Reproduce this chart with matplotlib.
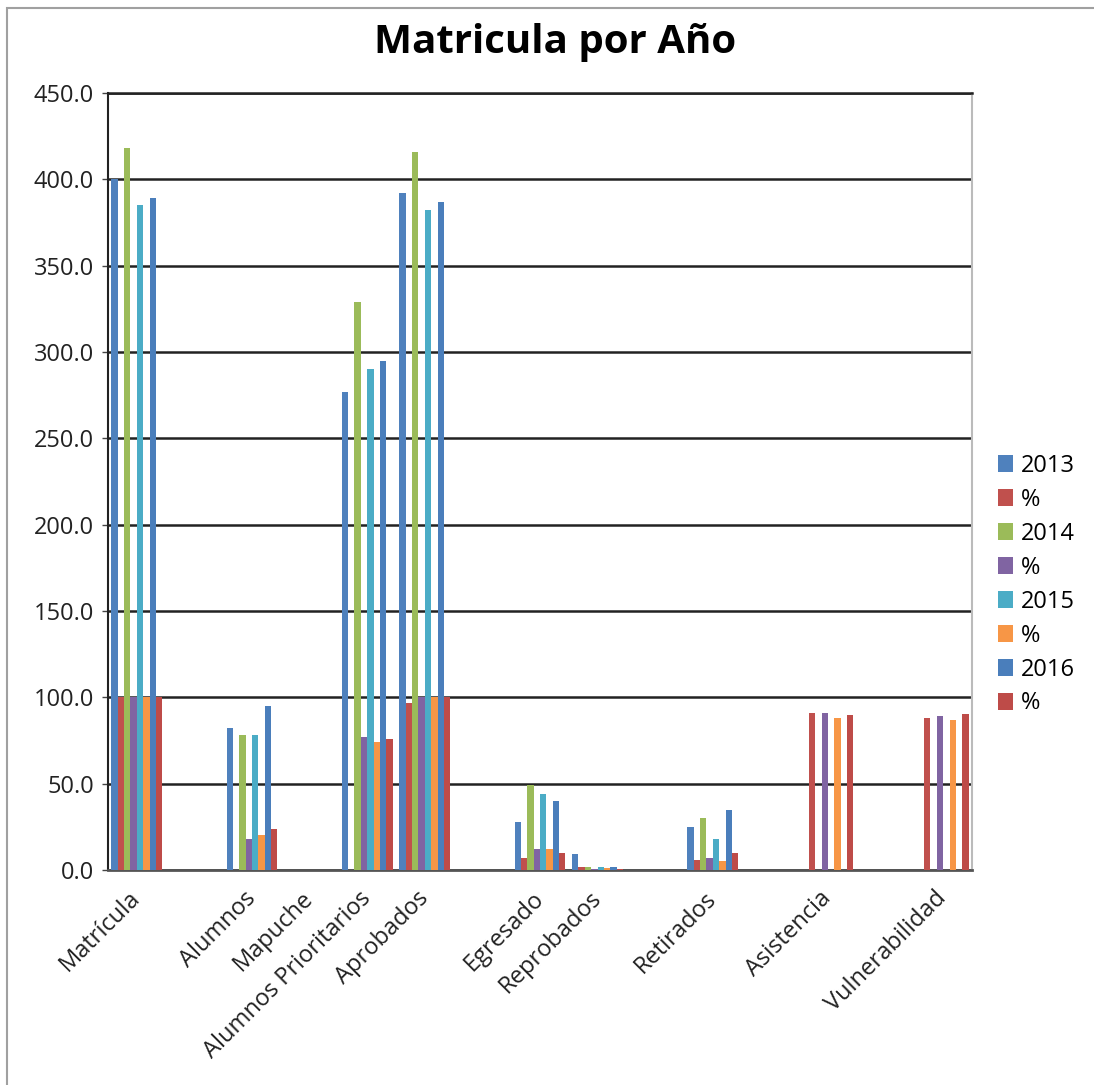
import matplotlib
matplotlib.use("Agg")
import matplotlib.pyplot as plt
from matplotlib.patches import Patch, Rectangle
import numpy as np

plt.rcParams['font.family'] = ['Open Sans', 'DejaVu Sans']

categories = ["Matrícula", "", "Alumnos", "Mapuche", "Alumnos Prioritarios", "Aprobados", "",
              "Egresado", "Reprobados", "", "Retirados", "", "Asistencia", "", "Vulnerabilidad"]

v2013   = [400, 0, 82, 0, 277, 392, 0, 28, 9,   0, 25, 0, 0,  0, 0]
p2013   = [100, 0, 0,  0, 0,   97,  0, 7,  2,   0, 6,  0, 91, 0, 88]
v2014   = [418, 0, 78, 0, 329, 416, 0, 49, 2,   0, 30, 0, 0,  0, 0]
p2014   = [100, 0, 18, 0, 77,  100, 0, 12, 0.5, 0, 7,  0, 91, 0, 89]
v2015   = [385, 0, 78, 0, 290, 382, 0, 44, 2,   0, 18, 0, 0,  0, 0]
p2015   = [100, 0, 20, 0, 74,  100, 0, 12, 1,   0, 5,  0, 88, 0, 87]
v2016   = [389, 0, 95, 0, 295, 387, 0, 40, 2,   0, 35, 0, 0,  0, 0]
p2016   = [100, 0, 24, 0, 76,  100, 0, 10, 0.5, 0, 10, 0, 90, 0, 90.5]

series_labels = ["2013", "%", "2014", "%", "2015", "%", "2016", "%"]
series_values = [v2013, p2013, v2014, p2014, v2015, p2015, v2016, p2016]
colors = ["#4F81BD", "#C0504D", "#9BBB59", "#8064A2", "#4BACC6", "#F79646", "#4A7EBB", "#BE4B48"]

yticks = [0, 50, 100, 150, 200, 250, 300, 350, 400, 450]

fig = plt.figure(figsize=(10.94, 10.85), dpi=100)
ax = fig.add_axes([108/1094, 1 - 870/1085, (972-108)/1094, (870-93)/1085])

x = np.arange(len(categories))
n = len(series_values)
w = 0.885 / n
for i, (vals, col) in enumerate(zip(series_values, colors)):
    ax.bar(x - 0.885/2 + w*(i+0.5), vals, width=w, color=col, linewidth=0, zorder=3)

ax.set_xlim(-0.5, len(categories) - 0.5)
ax.set_ylim(0, 450)
ax.set_yticks(yticks)
ax.set_yticklabels([f"{t:.1f}" for t in yticks], fontsize=17, color="#222222")
ax.set_xticks(x)
ax.set_xticklabels(categories, rotation=45, ha='right', va='center', rotation_mode='anchor',
                   fontsize=17, color="#222222")
ax.tick_params(axis='x', length=0, pad=18)
ax.tick_params(axis='y', length=4, width=1, color="#444444", pad=6)

ax.grid(axis='y', color="#222222", linewidth=1.8, zorder=1)
ax.set_axisbelow(True)
ax.spines['left'].set_color("#222222"); ax.spines['left'].set_linewidth(1.5)
ax.spines['bottom'].set_color("#555555"); ax.spines['bottom'].set_linewidth(2)
ax.spines['top'].set_color("#222222"); ax.spines['top'].set_linewidth(1.8)
ax.spines['right'].set_color("#bbbbbb"); ax.spines['right'].set_linewidth(1.5)

fig.text(555/1094, 1 - 42/1085, "Matricula por Año", ha='center', va='center',
         fontsize=29, fontweight='bold', color="#000000")

handles = [Patch(facecolor=c, edgecolor='none') for c in colors]
fig.legend(handles, series_labels, loc='upper left', bbox_to_anchor=(998/1094, 1 - 454/1085),
           frameon=False, fontsize=17, handlelength=0.65, handleheight=0.75, handletextpad=0.3,
           labelspacing=0.42, borderpad=0, borderaxespad=0)

fig.patches.append(Rectangle((7/1094, -0.1), 1.2, 1 - 8/1085 + 0.1, transform=fig.transFigure,
                             fill=False, edgecolor="#a0a0a0", linewidth=1.5))

fig.savefig("out.png", dpi=100)
